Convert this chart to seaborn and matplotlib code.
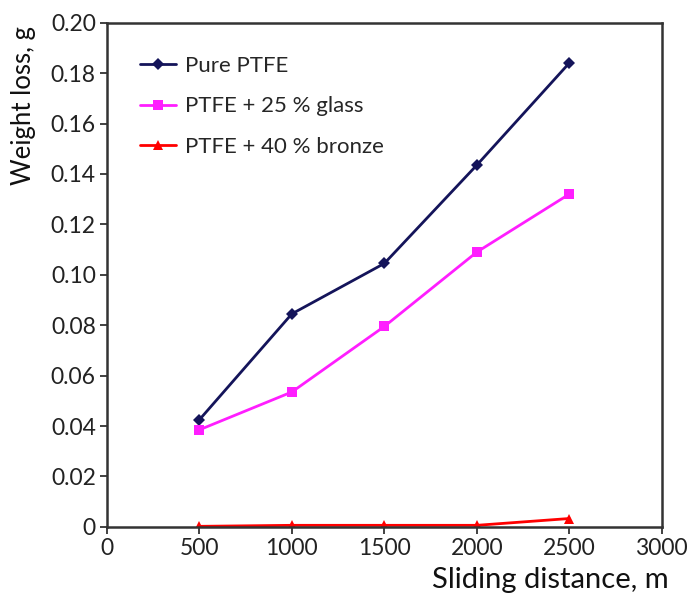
import matplotlib
matplotlib.use("Agg")
import matplotlib.pyplot as plt
import numpy as np
import pandas as pd
import seaborn as sns

# 数据
distance = [500, 1000, 1500, 2000, 2500]
pure_ptfe = [0.0425, 0.0845, 0.1045, 0.1435, 0.184]
ptfe_glass = [0.0385, 0.0535, 0.0795, 0.109, 0.132]
ptfe_bronze = [0.0002, 0.0006, 0.0006, 0.0006, 0.0033]

series_names = ["Pure PTFE", "PTFE + 25 % glass", "PTFE + 40 % bronze"]
x_ticks = [0, 500, 1000, 1500, 2000, 2500, 3000]
y_ticks = [0, 0.02, 0.04, 0.06, 0.08, 0.10, 0.12, 0.14, 0.16, 0.18, 0.20]
y_tick_labels = ["0", "0.02", "0.04", "0.06", "0.08", "0.10", "0.12",
                 "0.14", "0.16", "0.18", "0.20"]

df = pd.DataFrame({
    "distance": distance * 3,
    "loss": pure_ptfe + ptfe_glass + ptfe_bronze,
    "series": [n for n in series_names for _ in distance],
})

sns.set_style("ticks")
plt.rcParams["font.family"] = ["Lato", "DejaVu Sans"]

fig = plt.figure(figsize=(6.9, 5.98), dpi=100)
ax = fig.add_axes([0.155, 0.119, 0.804, 0.843])

palette = {"Pure PTFE": "#14145a", "PTFE + 25 % glass": "#ff1eff",
           "PTFE + 40 % bronze": "#ff0000"}
markers = {"Pure PTFE": "D", "PTFE + 25 % glass": "s", "PTFE + 40 % bronze": "^"}

sns.lineplot(data=df, x="distance", y="loss", hue="series", style="series",
             palette=palette, markers=markers, dashes=False, linewidth=2,
             markersize=6.5, markeredgewidth=0, ax=ax)

ax.set_xlim(0, 3000)
ax.set_ylim(0, 0.20)
ax.set_xticks(x_ticks)
ax.set_yticks(y_ticks)
ax.set_yticklabels(y_tick_labels)
ax.tick_params(labelsize=16.5, length=5, width=1.3, color="#333333",
               labelcolor="#222222", direction="out", pad=3)
for s in ax.spines.values():
    s.set_linewidth(1.8)
    s.set_color("#333333")

ax.set_ylabel("Weight loss, g", fontsize=18.5, color="#111111")
ax.yaxis.set_label_coords(-0.128, 0.835)
ax.set_xlabel("Sliding distance, m", fontsize=21, color="#111111")
ax.xaxis.set_label_coords(0.80, -0.080)

leg = ax.legend(loc="upper left", bbox_to_anchor=(0.06, 0.934), frameon=False,
                fontsize=16, handlelength=1.6, handletextpad=0.4,
                labelspacing=0.92, borderpad=0, borderaxespad=0, title=None)

fig.savefig("out.png", dpi=100)
